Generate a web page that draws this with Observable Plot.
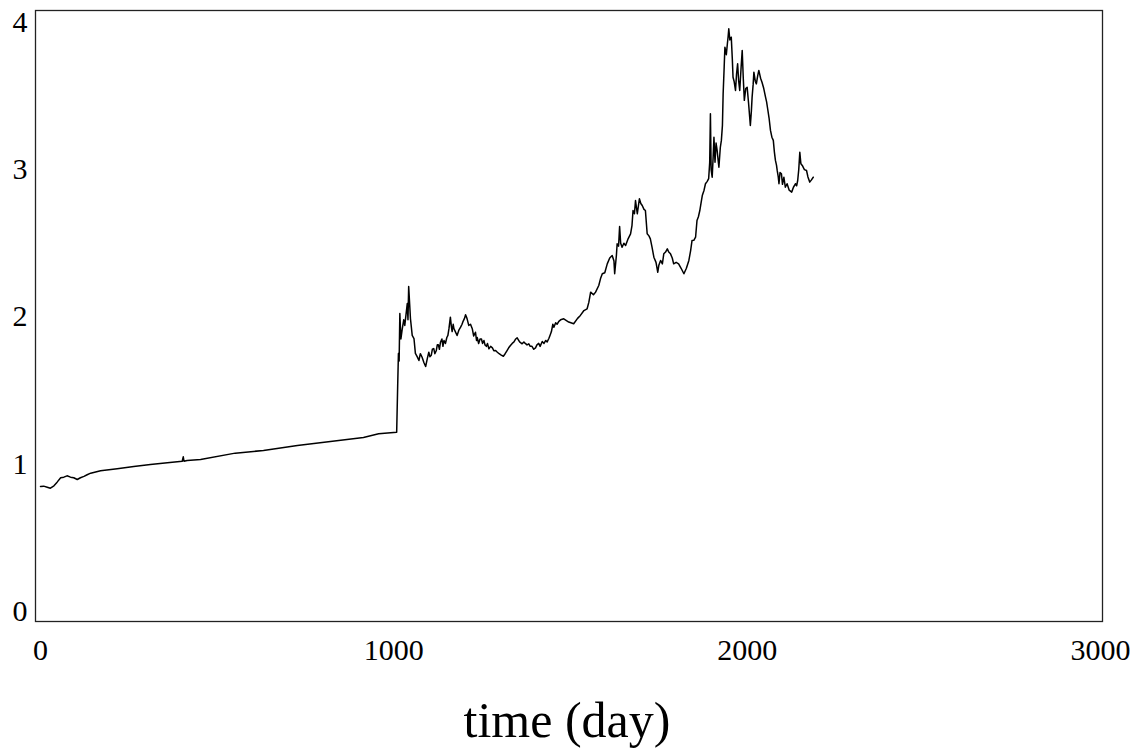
<!DOCTYPE html>
<html><head><meta charset="utf-8">
<script src="https://cdn.jsdelivr.net/npm/d3@7"></script>
<script src="https://cdn.jsdelivr.net/npm/@observablehq/plot@0.6"></script>
<style>
body{margin:0;background:#fff;}
#wrap{position:relative;width:1139px;height:755px;background:#fff;}
#title{position:absolute;left:0;top:695px;width:1134px;text-align:center;font-family:"Liberation Serif",serif;font-size:50px;line-height:50px;color:#000;}
</style>
</head><body>
<div id="wrap"><div id="chart"></div><div id="title">time (day)</div></div>
<script>
const days = [0,9,19,28,38,47,57,66,75,85,94,104,113,123,132,142,170,217,264,311,359,401,404,406,415,453,551,631,727,914,957,1008,
1011,1013,1015,1017,1020,1024,1028,1031,1038,1040,1042,1047,1052,1057,1061,1066,1071,1075,1080,1085,1090,1095,
1099,1102,1106,1109,1113,1116,1120,1123,1126,1129,1132,1136,1139,1142,1146,1150,1153,1156,1160,1163,1165,1168,1170,1174,1179,1184,1189,1193,1196,1200,1203,1207,1212,1217,1222,1226,1231,1234,1236,1240,1244,1248,1251,1255,1258,1262,1265,1269,1274,1279,1283,1288,1293,1298,1304,1310,
1315,1320,1325,1330,1335,1340,1345,1349,1356,1363,1368,1372,1377,1382,1386,1391,1396,
1401,1405,1410,1414,1420,1425,1430,1434,1439,1443,1446,1450,1453,1458,1462,1467,1472,
1481,1495,1509,1520,1528,1538,1547,1552,1557,1565,1571,1580,1585,1590,1597,1604,1611,1618,1623,1625,1630,1632,1636,1639,1642,1646,1651,1656,1663,1670,1674,1677,1681,1684,1689,1695,1699,1703,1708,1712,1717,1722,1726,1731,1736,1742,1747,1750,1755,1760,1764,1769,1774,1778,1783,1788,1792,1799,1806,1813,1821,1828,1835,1840,1844,1849,1854,1858,1862,1866,1870,1873,1878,1882,1887,1891,1894,1896,1898,1901,1904,1906,1909,1912,1915,1918,1920,1924,1927,1930,1932,1935,1937,1941,1944,1946,1948,1951,1955,1958,1960,1963,1967,1970,1973,1976,1979,1983,1986,1989,1992,1996,2000,2004,2007,2009,2012,2014,2017,2019,2023,2026,2030,2033,2038,2042,2047,2052,2055,2058,2062,2066,2070,2074,2077,2080,2083,2085,2088,2090,2093,2097,2100,2104,2108,2113,2119,2126,2131,2137,2140,2143,2146,2149,2152,2156,2162,2168,2172,2177,2182,2187];
const values = [0.849,0.851,0.844,0.837,0.853,0.878,0.908,0.912,0.921,0.912,0.908,0.896,0.908,0.917,0.928,0.939,0.955,0.969,0.984,0.998,1.009,1.020,1.050,1.020,1.025,1.032,1.075,1.093,1.127,1.181,1.206,1.217,
1.548,1.752,1.70,2.023,1.85,1.921,1.98,1.942,2.091,1.98,2.206,1.989,1.874,1.853,1.752,1.73,1.704,1.75,1.726,1.69,1.663,1.72,
1.760,1.73,1.74,1.78,1.785,1.75,1.77,1.81,1.81,1.78,1.828,1.85,1.80,1.84,1.819,1.86,1.874,1.92,1.998,1.93,1.90,1.95,1.921,1.90,1.874,1.91,1.930,1.95,1.97,1.99,2.014,1.99,1.942,1.95,1.92,1.87,1.896,1.84,1.86,1.819,1.85,1.85,1.82,1.840,1.81,1.80,1.82,1.783,1.80,1.79,1.77,1.772,1.76,1.75,1.74,1.733,
1.75,1.77,1.79,1.806,1.82,1.83,1.85,1.858,1.83,1.817,1.83,1.82,1.81,1.817,1.80,1.80,1.78,
1.790,1.81,1.82,1.80,1.833,1.82,1.84,1.83,1.855,1.88,1.90,1.95,1.930,1.96,1.95,1.97,1.980,
1.987,1.965,1.953,1.99,2.010,2.043,2.055,2.10,2.168,2.15,2.168,2.213,2.26,2.293,2.30,2.360,2.40,2.417,2.38,2.293,2.42,2.496,2.48,2.614,2.50,2.473,2.50,2.485,2.53,2.564,2.62,2.722,2.70,2.790,2.700,2.802,2.77,2.756,2.73,2.722,2.564,2.55,2.530,2.47,2.405,2.37,2.303,2.35,2.383,2.36,2.428,2.44,2.462,2.44,2.428,2.40,2.360,2.37,2.360,2.33,2.293,2.33,2.383,2.45,2.519,2.52,2.541,2.654,2.68,2.722,2.78,2.824,2.86,2.904,2.92,2.938,3.05,3.379,3.00,2.948,3.10,3.220,3.05,3.18,3.130,3.06,3.016,3.15,3.198,3.30,3.515,3.70,3.831,3.78,3.854,3.90,3.956,3.88,3.899,3.75,3.627,3.60,3.537,3.65,3.718,3.60,3.537,3.70,3.809,3.62,3.470,3.55,3.559,3.45,3.36,3.299,3.40,3.492,3.58,3.661,3.60,3.582,3.64,3.673,3.62,3.593,3.55,3.492,3.46,3.413,3.35,3.266,3.22,3.198,3.12,3.062,3.03,2.994,2.95,2.904,2.98,2.971,2.90,2.948,2.88,2.904,2.86,2.847,2.88,2.904,2.89,2.926,3.00,3.118,3.04,3.028,3.00,2.994,2.95,2.915,2.93,2.948];
const xTicks = [0,1000,2000,3000];
const yTicks = [0,1,2,3,4];

const data = days.map((d, i) => ({day: d, value: values[i]}));

const chart = Plot.plot({
  width: 1139,
  height: 680,
  marginLeft: 35,
  marginRight: 37,
  marginTop: 10,
  marginBottom: 59,
  style: {fontFamily: '"Liberation Serif", serif', fontSize: "30px", background: "#fff", color: "#000", overflow: "visible"},
  x: {domain: [-14.2, 3005.7], ticks: xTicks, tickSize: 0, tickPadding: 17, tickFormat: d => String(d), label: null},
  y: {domain: [-0.068, 4.08], ticks: yTicks, tickSize: 0, tickPadding: 8, tickFormat: d => String(d), label: null},
  marks: [
    Plot.frame({stroke: "#222", strokeWidth: 1.3}),
    Plot.line(data, {x: "day", y: "value", stroke: "#000", strokeWidth: 1.5})
  ]
});
document.getElementById("chart").appendChild(chart);
</script>
</body></html>
